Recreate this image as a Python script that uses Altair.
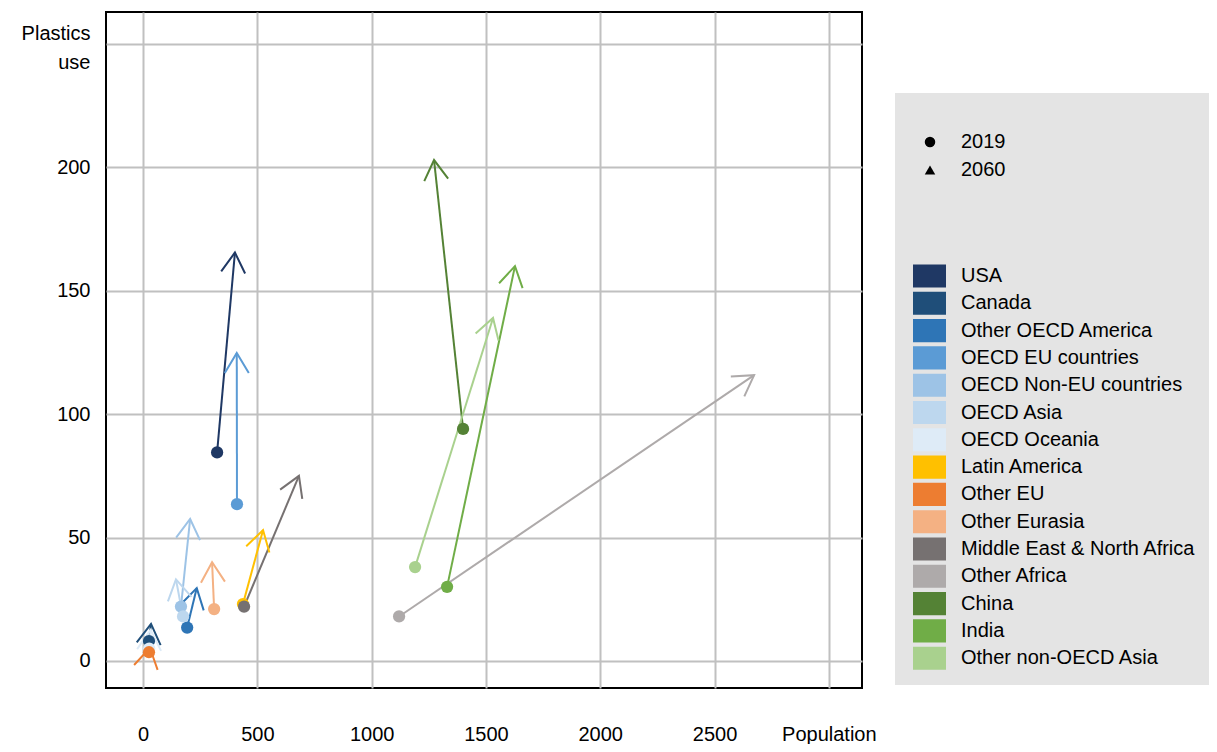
import math
import altair as alt
import pandas as pd

regions = ["USA", "Canada", "Other OECD America", "OECD EU countries",
           "OECD Non-EU countries", "OECD Asia", "OECD Oceania", "Latin America",
           "Other EU", "Other Eurasia", "Middle East & North Africa", "Other Africa",
           "China", "India", "Other non-OECD Asia"]
colors = ["#1f3864", "#1f4e79", "#2e75b6", "#5b9bd5", "#9dc3e6", "#bdd7ee",
          "#deebf7", "#ffc000", "#ed7d31", "#f4b183", "#767171", "#aeaaaa",
          "#548235", "#70ad47", "#a9d18e"]
pop_2019 = [324, 26, 193, 411, 166, 175, 27, 437, 26, 311, 442, 1120, 1400, 1330, 1190]
use_2019 = [84.5, 8, 13.5, 63.5, 22, 18, 5, 23, 3.5, 21, 22, 18, 94, 30, 38]
pop_2060 = [402, 35, 235, 410, 206, 144, 33, 525, 30, 302, 682, 2673, 1273, 1627, 1531]
use_2060 = [165.5, 15, 29.5, 124.8, 57.5, 33, 12.5, 53, 5.3, 40, 75, 115.8, 203, 160, 139]
years = ["2019", "2060"]

X_DOM = [-162, 3145]
Y_DOM = [-11, 263]
W, H = 756, 676

sx = W / (X_DOM[1] - X_DOM[0])
sy = H / (Y_DOM[1] - Y_DOM[0])

df = pd.DataFrame({
    "region": regions,
    "pop0": pop_2019, "use0": use_2019,
    "pop1": pop_2060, "use1": use_2060,
    "year": "2019",
})
df["angle"] = [
    math.degrees(math.atan2((p1 - p0) * sx, (u1 - u0) * sy)) % 360
    for p0, u0, p1, u1 in zip(pop_2019, use_2019, pop_2060, use_2060)
]

xs = alt.Scale(domain=X_DOM, nice=False, zero=False)
ys = alt.Scale(domain=Y_DOM, nice=False, zero=False)
cs = alt.Scale(domain=regions, range=colors)

x_axis = alt.Axis(values=[0, 500, 1000, 1500, 2000, 2500, 3000], title=None,
                  labelExpr="datum.value == 3000 ? 'Population' : datum.label",
                  format="d",
                  labelPadding=36, labelOverlap=False, labelFlush=False)
y_axis = alt.Axis(values=[0, 50, 100, 150, 200, 250], title=None,
                  labelExpr="datum.value == 250 ? ['Plastics', 'use'] : datum.label",
                  labelOffset={"condition": {"test": "datum.value == 250", "value": -11},
                               "value": 0},
                  labelPadding=16, labelOverlap=False, labelFlush=False,
                  labelLineHeight=29)

RECT_PATH = "M-1,-0.7 L1,-0.7 L1,0.7 L-1,0.7 Z"
ARROW_PATH = "M-0.6,1 L0,0 L0.6,1"

color_legend = alt.Legend(
    orient="none", legendX=807, legendY=251.5, title=None, padding=0,
    symbolType=RECT_PATH, symbolSize=1089, symbolStrokeWidth=0,
    symbolOpacity=1, labelOffset=15, clipHeight=25, rowPadding=2.3,
    labelFontSize=20, labelColor="#000000", labelLimit=400)

bg = alt.Chart(pd.DataFrame({"k": [0]})).mark_rect(color="#e4e4e4").encode(
    x=alt.value(789), x2=alt.value(1103), y=alt.value(81), y2=alt.value(673)
)

points = alt.Chart(df).mark_point(filled=True, size=150, opacity=1).encode(
    x=alt.X("pop0:Q", scale=xs, axis=x_axis),
    y=alt.Y("use0:Q", scale=ys, axis=y_axis),
    color=alt.Color("region:N", scale=cs, legend=color_legend),
    shape=alt.Shape("year:N", scale=alt.Scale(domain=years, range=["circle", "triangle-up"]),
                    legend=alt.Legend(
        orient="none", legendX=814, legendY=120, title=None, padding=0,
        symbolSize=110, symbolFillColor="#000000", symbolStrokeColor="#000000",
        symbolStrokeWidth=0, symbolOpacity=1, labelOffset=21, clipHeight=20,
        rowPadding=8, labelFontSize=20, labelColor="#000000")),
)

lines = alt.Chart(df).mark_rule(strokeWidth=2).encode(
    x=alt.X("pop0:Q", scale=xs),
    y=alt.Y("use0:Q", scale=ys),
    x2="pop1:Q", y2="use1:Q",
    color=alt.Color("region:N", scale=cs, legend=color_legend),
)

heads = alt.Chart(df).mark_point(shape=ARROW_PATH, filled=False, size=1600,
                                 strokeWidth=2, opacity=1, strokeJoin="miter").encode(
    x=alt.X("pop1:Q", scale=xs),
    y=alt.Y("use1:Q", scale=ys),
    angle=alt.Angle("angle:Q", scale=None),
    color=alt.Color("region:N", scale=cs, legend=color_legend),
)

chart = alt.layer(bg, lines, heads, points).resolve_legend(
    color="shared", shape="independent"
).properties(
    width=W, height=H,
    autosize=alt.AutoSizeParams(type="none"),
    padding={"left": 98, "top": 4, "right": 347, "bottom": 56},
).configure(
    font="Liberation Sans"
).configure_view(
    stroke="#000000", strokeWidth=2
).configure_axis(
    grid=True, gridColor="#c0c0c0", gridWidth=2, domain=False, ticks=False,
    labelFont="Liberation Sans", labelFontSize=20, labelColor="#000000",
).configure_legend(
    labelFont="Liberation Sans",
)

chart.save("out.html", embed_options={"renderer": "svg", "actions": False})
